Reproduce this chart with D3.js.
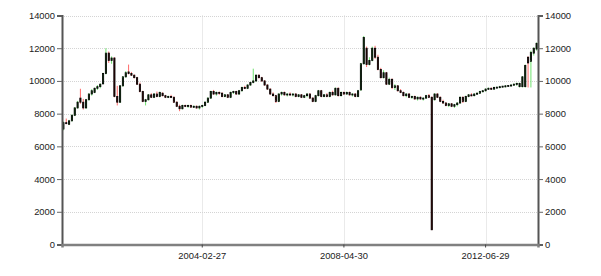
<!DOCTYPE html>
<html>
<head>
<meta charset="utf-8">
<script src="https://cdn.jsdelivr.net/npm/d3@7"></script>
<style>
  body { margin: 0; background: #fff; }
  svg text { font-family: "Liberation Sans", Arial, sans-serif; font-size: 9.4px; fill: #222; }
</style>
</head>
<body>
<div class="chart"></div>
<script>
const width = 601;
const height = 276;
const margin = { top: 15.5, right: 63, bottom: 31, left: 62 };

// monthly candles, 2000-01 .. 2013-12
const months = d3.timeMonth.range(new Date(2000, 0, 1), new Date(2014, 0, 1));

const open = [
  7060, 7450, 7350, 7560, 7900, 8350, 8950, 8700, 8350, 8850, 9200, 9300, 9550, 9650, 9820, 10450, 11700, 11250, 11400, 9050,
  8700, 9700, 10250, 10550, 10450, 10350, 10200, 9800, 9350, 8750, 8850, 9150, 9000, 9200, 9050, 9250, 9100, 9000, 9050, 9000,
  8700, 8450, 8300, 8500, 8450, 8500, 8400, 8450, 8350, 8450, 8500, 8700, 8950, 9350, 9200, 9300, 9250, 9050, 9150, 9000,
  9300, 9350, 9200, 9400, 9600, 9550, 9750, 9900, 10000, 10350, 10200, 10000, 9750, 9500, 9200, 9100, 8750, 9200, 9300, 9150,
  9200, 9150, 9200, 9050, 9150, 9000, 9100, 9200, 8950, 8750, 9100, 9400, 9050, 9150, 9050, 9300, 9150, 9550, 9100, 9300,
  9200, 9300, 9150, 9200, 9050, 9450, 11050, 12000, 11000, 11250, 12000, 11450, 10700, 10200, 10500, 9800, 10100, 9600, 9700, 9400,
  9300, 9100, 9200, 9000, 9050, 8900, 9000, 8900, 8950, 9100, 9000, 8850, 9200, 9000, 8750, 8650, 8500, 8600, 8450, 8550,
  8650, 9000, 8750, 9050, 9150, 9100, 9200, 9250, 9350, 9400, 9500, 9550, 9500, 9600, 9620, 9650, 9680, 9700, 9720, 9750,
  9800, 9650, 9650, 9650, 11450, 11200, 11700, 11950
];
const high = [
  7520, 7700, 7620, 7950, 8400, 8780, 9520, 8900, 8900, 9250, 9500, 9600, 9750, 9850, 10500, 12000, 11800, 11500, 11450, 9700,
  9750, 10300, 10600, 11000, 10550, 10400, 10250, 9900, 9400, 8900, 9200, 9250, 9250, 9350, 9350, 9300, 9150, 9100, 9150, 9050,
  8750, 8550, 8550, 8550, 8550, 8550, 8500, 8500, 8500, 8550, 8750, 9000, 9400, 9450, 9350, 9350, 9300, 9200, 9200, 9350,
  9400, 9400, 9450, 9650, 9700, 9800, 9950, 10750, 10400, 10400, 10250, 10050, 9800, 9550, 9300, 9150, 9250, 9350, 9350, 9250,
  9300, 9250, 9250, 9200, 9200, 9150, 9250, 9250, 9000, 9150, 9450, 9450, 9200, 9250, 9350, 9400, 9600, 9600, 9350, 9350,
  9350, 9350, 9250, 9250, 9450, 11100, 12750, 12100, 11450, 12100, 12150, 11600, 10800, 10650, 10550, 10200, 10150, 9800, 9750, 9500,
  9350, 9250, 9250, 9100, 9100, 9050, 9050, 9000, 9150, 9200, 9050, 9250, 9250, 9050, 8850, 8700, 8650, 8650, 8600, 8700,
  9050, 9050, 9100, 9200, 9250, 9250, 9300, 9400, 9450, 9550, 9600, 9600, 9650, 9650, 9700, 9700, 9750, 9750, 9800, 9850,
  9900, 9900, 10300, 11000, 11500, 11850, 12050, 12350
];
const low = [
  6980, 7350, 7300, 7520, 7850, 8300, 8600, 8250, 8300, 8800, 9100, 9250, 9450, 9550, 9800, 10400, 11100, 11050, 9000, 8500,
  8650, 9650, 10200, 10400, 10300, 10150, 9750, 9300, 8700, 8500, 8800, 8950, 8950, 9000, 9000, 9050, 8950, 8950, 8950, 8650,
  8400, 8150, 8250, 8400, 8350, 8350, 8350, 8300, 8250, 8350, 8450, 8650, 8900, 9150, 9100, 9150, 9000, 9000, 8950, 8950,
  9200, 9150, 9150, 9350, 9500, 9500, 9700, 9850, 9950, 10150, 9950, 9700, 9450, 9150, 9050, 8650, 8700, 9100, 9100, 9050,
  9100, 9050, 9000, 9000, 8950, 8950, 9000, 8900, 8700, 8700, 9050, 9000, 9000, 9000, 9000, 9100, 9100, 9050, 9050, 9150,
  9150, 9100, 9050, 9000, 9000, 9400, 11000, 10850, 10950, 11200, 11350, 10650, 10150, 10150, 9750, 9750, 9500, 9450, 9350, 9250,
  9050, 9000, 8950, 8900, 8850, 8800, 8850, 8800, 8900, 8950, 880, 8800, 8950, 8700, 8600, 8450, 8400, 8400, 8350, 8450,
  8600, 8650, 8700, 9000, 9050, 9050, 9150, 9200, 9300, 9350, 9450, 9450, 9450, 9550, 9550, 9600, 9600, 9650, 9650, 9700,
  9700, 9600, 9600, 9600, 9600, 9600, 11550, 11850
];
const close = [
  7450, 7400, 7560, 7900, 8350, 8700, 8700, 8350, 8850, 9200, 9400, 9550, 9650, 9800, 10450, 11700, 11250, 11400, 9050, 8700,
  9700, 10250, 10500, 10450, 10350, 10200, 9800, 9350, 8750, 8850, 9150, 9000, 9200, 9050, 9300, 9100, 9000, 9050, 9000, 8700,
  8450, 8300, 8500, 8450, 8500, 8400, 8450, 8350, 8450, 8500, 8700, 8950, 9350, 9200, 9300, 9250, 9050, 9150, 9000, 9300,
  9350, 9200, 9400, 9600, 9550, 9750, 9900, 10000, 10350, 10200, 10000, 9750, 9500, 9200, 9100, 8750, 9200, 9300, 9150, 9200,
  9150, 9200, 9050, 9150, 9000, 9100, 9200, 8950, 8750, 9100, 9400, 9050, 9150, 9050, 9300, 9150, 9550, 9100, 9300, 9200,
  9300, 9150, 9200, 9050, 9400, 11050, 12650, 11000, 11250, 12000, 11450, 10700, 10200, 10500, 9800, 10100, 9600, 9700, 9400, 9300,
  9100, 9200, 9000, 9050, 8900, 9000, 8900, 8950, 9100, 9000, 900, 9200, 9000, 8750, 8650, 8500, 8600, 8450, 8550, 8650,
  9000, 8750, 9050, 9150, 9100, 9200, 9250, 9350, 9400, 9500, 9550, 9500, 9600, 9620, 9650, 9680, 9700, 9720, 9750, 9800,
  9850, 9850, 10250, 10950, 11100, 11750, 12000, 12300
];

const yTicks = [0, 2000, 4000, 6000, 8000, 10000, 12000, 14000];
const tickLabels = ["2004-02-27", "2008-04-30", "2012-06-29"];

const fmtMonth = d3.timeFormat("%Y-%m");
const tickIndex = tickLabels.map(t => months.findIndex(m => fmtMonth(m) === t.slice(0, 7)));

const data = months.map((m, i) => ({ i, o: open[i], h: high[i], l: low[i], c: close[i] }));

const x = d3.scaleBand()
    .domain(d3.range(months.length))
    .range([margin.left, width - margin.right]);

const y = d3.scaleLinear()
    .domain([0, 14000])
    .range([height - margin.bottom - 0.5, margin.top]);

const svg = d3.select("div.chart")
    .append("svg")
    .attr("width", width)
    .attr("height", height);

const cx = i => x(i) + x.bandwidth() / 2;

// grid
svg.append("g")
    .selectAll("line")
    .data(yTicks.slice(1))
    .join("line")
    .attr("x1", margin.left).attr("x2", width - margin.right)
    .attr("y1", d => Math.round(y(d)) + 0.5).attr("y2", d => Math.round(y(d)) + 0.5)
    .attr("stroke", "#d4d4d4")
    .attr("stroke-dasharray", "1,1");

svg.append("g")
    .selectAll("line")
    .data(tickIndex)
    .join("line")
    .attr("x1", d => Math.round(cx(d)) + 0.5).attr("x2", d => Math.round(cx(d)) + 0.5)
    .attr("y1", margin.top).attr("y2", y(0))
    .attr("stroke", "#d4d4d4")
    .attr("stroke-dasharray", "1,1");

// candles: coloured wick, dark body
const candles = svg.append("g").attr("class", "candles")
    .selectAll("g")
    .data(data)
    .join("g");

candles.append("line")
    .attr("x1", d => cx(d.i)).attr("x2", d => cx(d.i))
    .attr("y1", d => y(d.h)).attr("y2", d => y(d.l))
    .attr("stroke", d => d.c >= d.o ? "#6fe26f" : "#ff6a6a")
    .attr("stroke-width", 1);

candles.append("rect")
    .attr("x", d => cx(d.i) - 0.6)
    .attr("width", 1.2)
    .attr("y", d => y(Math.max(d.o, d.c)))
    .attr("height", d => Math.max(1, Math.abs(y(d.o) - y(d.c))))
    .attr("fill", d => d.c >= d.o ? "#0c3f0c" : "#3a0606")
    .attr("stroke", "#000")
    .attr("stroke-width", 0.8);

// axes
const yLeft = svg.append("g")
    .attr("transform", `translate(${margin.left},0)`)
    .call(d3.axisLeft(y).tickValues(yTicks).tickSize(5).tickPadding(2).tickFormat(d3.format("d")));

const yRight = svg.append("g")
    .attr("transform", `translate(${width - margin.right},0)`)
    .call(d3.axisRight(y).tickValues(yTicks).tickSize(5).tickPadding(2).tickFormat(d3.format("d")));

[yLeft, yRight].forEach(g => {
    g.select(".domain").attr("stroke", "#555").attr("stroke-width", 2);
    g.selectAll(".tick line").attr("stroke", "#666");
    g.selectAll(".tick text").attr("fill", "#222");
});

const xAxis = svg.append("g")
    .attr("transform", `translate(0,${y(0)})`)
    .call(d3.axisBottom(x)
        .tickValues(tickIndex)
        .tickSize(3)
        .tickPadding(5)
        .tickFormat((d, k) => tickLabels[k]));

xAxis.select(".domain").attr("stroke", "#808080").attr("stroke-width", 2.5);
xAxis.selectAll(".tick line").attr("stroke", "#444");
xAxis.selectAll(".tick text").attr("fill", "#222");
</script>
</body>
</html>
